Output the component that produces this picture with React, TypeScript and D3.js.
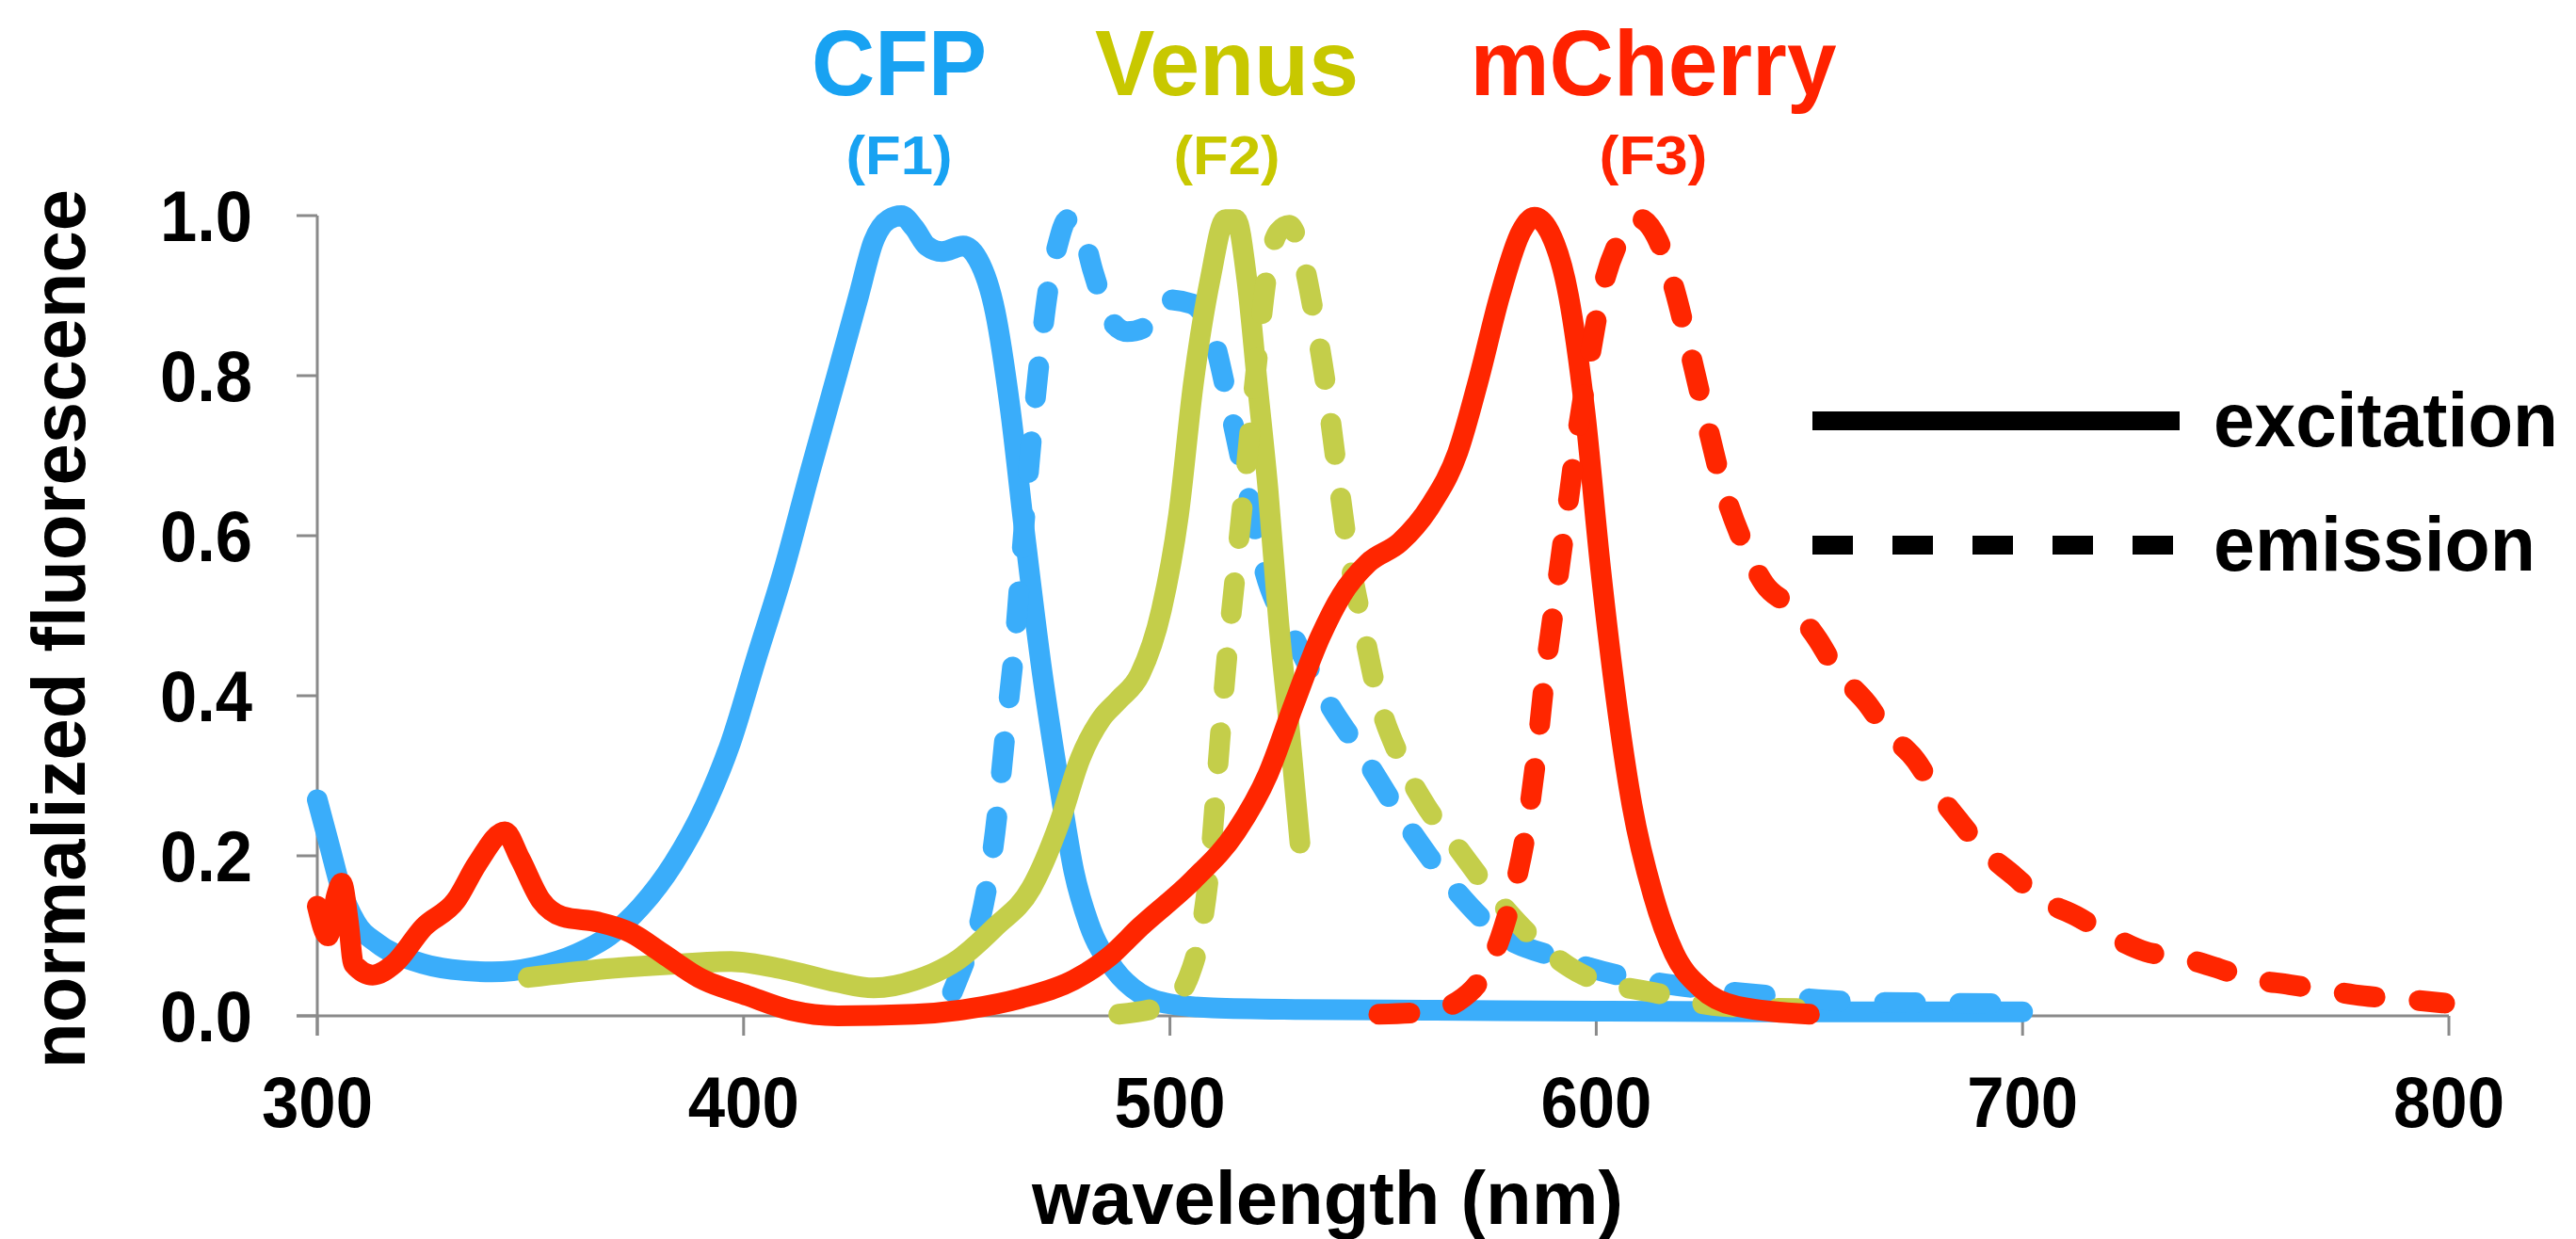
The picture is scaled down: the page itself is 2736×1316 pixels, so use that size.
import React from "react";
import * as d3 from "d3";

// ---- data (wavelength nm, normalized fluorescence) ----
const cfpExcitation: [number, number][] = [
  [300, 0.27], [303, 0.21], [305.5, 0.16], [309, 0.117], [314, 0.091], [323, 0.068],
  [331.5, 0.058], [341, 0.055], [351, 0.061], [361, 0.078], [368.5, 0.1], [376, 0.137],
  [383.5, 0.19], [391, 0.263], [397, 0.342], [403, 0.447], [409.5, 0.559], [415.5, 0.678],
  [422, 0.803], [427, 0.9], [430.5, 0.968], [434, 0.995], [437, 1.0], [440, 0.985],
  [443, 0.962], [446.5, 0.955], [451.5, 0.962], [455, 0.945], [459, 0.88], [462.5, 0.76],
  [466, 0.6], [470, 0.43], [474, 0.29], [477.5, 0.18], [481, 0.115], [487, 0.058],
  [493, 0.028], [500, 0.015], [510, 0.01], [530, 0.008], [560, 0.007], [600, 0.006],
  [650, 0.005], [700, 0.005],
];
const cfpEmission: [number, number][] = [
  [449, 0.03], [452, 0.07], [455.5, 0.12], [459, 0.23], [461.5, 0.36], [463.5, 0.46],
  [465, 0.56], [467, 0.69], [469, 0.8], [471.5, 0.91], [473.5, 0.96], [476, 0.995],
  [479, 0.985], [482, 0.93], [486, 0.87], [490, 0.855], [494, 0.86], [499, 0.895],
  [505, 0.89], [510, 0.85], [514, 0.76], [518, 0.66], [522, 0.56], [529, 0.474],
  [537.5, 0.388], [545, 0.328], [555, 0.243], [565, 0.17], [577, 0.104], [592, 0.071],
  [605, 0.051], [623, 0.035], [642, 0.025], [660, 0.018], [680, 0.016], [701, 0.015],
];
const venusExcitation: [number, number][] = [
  [349.5, 0.048], [366, 0.058], [385, 0.065], [397, 0.068], [409.5, 0.058], [422, 0.042],
  [430.5, 0.035], [440.5, 0.045], [450.5, 0.071], [459, 0.111], [467.5, 0.16], [474, 0.24],
  [479, 0.322], [484, 0.372], [488, 0.395], [493, 0.427], [498, 0.507], [502, 0.625],
  [505.5, 0.79], [509.5, 0.922], [513, 0.995], [515.5, 0.995], [518, 0.922], [520.5, 0.79],
  [523, 0.658], [525.5, 0.493], [528, 0.36], [530.5, 0.216],
];
const venusEmission: [number, number][] = [
  [488, 0.002], [499.5, 0.015], [504.5, 0.05], [507, 0.098], [509.5, 0.197], [511, 0.296],
  [513, 0.427], [515.5, 0.56], [518, 0.69], [520.5, 0.823], [523, 0.935], [525.5, 0.98],
  [528, 0.988], [531, 0.949], [534, 0.87], [536.5, 0.79], [539, 0.69], [541.5, 0.592],
  [545, 0.493], [549, 0.394], [554, 0.322], [560, 0.263], [567.5, 0.21], [575, 0.157],
  [585, 0.098], [597, 0.051], [614.5, 0.028], [629.5, 0.012], [647, 0.009],
];
const mCherryExcitation: [number, number][] = [
  [300, 0.137], [302.5, 0.1], [304.5, 0.15], [305.7, 0.166], [307.3, 0.117], [308.5, 0.065],
  [313, 0.051], [318, 0.065], [325, 0.111], [332.5, 0.144], [337.5, 0.19], [344, 0.23],
  [347.5, 0.197], [352.5, 0.144], [357.5, 0.124], [366, 0.117], [373.5, 0.104], [381, 0.078],
  [389.5, 0.048], [401, 0.025], [411, 0.007], [422, 0.0], [440, 0.002], [453, 0.009],
  [465, 0.022], [477.5, 0.045], [486, 0.075], [493, 0.111], [505.5, 0.17], [515.5, 0.23],
  [523, 0.302], [529, 0.388], [535.3, 0.474], [540.3, 0.526], [546.5, 0.566], [554, 0.592],
  [561.3, 0.639], [567.5, 0.704], [572.5, 0.797], [577.4, 0.9], [582.4, 0.98], [585.5, 0.998],
  [589, 0.98], [593.5, 0.9], [597.3, 0.757], [601, 0.56], [604.7, 0.394], [608.4, 0.263],
  [613.4, 0.15], [618.3, 0.078], [624.5, 0.035], [633, 0.012], [650, 0.002],
];
const mCherryEmission: [number, number][] = [
  [549, 0.002], [560, 0.005], [567.5, 0.018], [573.5, 0.051], [577.5, 0.098], [581, 0.164],
  [583.5, 0.23], [586, 0.328], [588, 0.427], [590.5, 0.526], [593, 0.625], [595.5, 0.724],
  [598.5, 0.823], [601.5, 0.909], [605.3, 0.968], [609.7, 0.997], [614.6, 0.968], [618.3, 0.909],
  [622, 0.83], [625.8, 0.744], [629.5, 0.665], [634.4, 0.592], [639.4, 0.54], [646, 0.51],
  [652, 0.47], [656, 0.435], [663.6, 0.39], [668, 0.357], [675, 0.319], [679, 0.286],
  [685.5, 0.241], [690.7, 0.208], [698, 0.175], [704, 0.147], [712.5, 0.125], [720, 0.102],
  [729, 0.08], [737, 0.073], [745, 0.061], [753, 0.047], [762.6, 0.039], [770, 0.033],
  [780, 0.025], [789, 0.021], [799, 0.016],
];

const xTicks = [300, 400, 500, 600, 700, 800];
const yTicks = [0, 0.2, 0.4, 0.6, 0.8, 1.0];
const proteins = ["CFP", "Venus", "mCherry"];
const filters = ["(F1)", "(F2)", "(F3)"];
const legendLabels = ["excitation", "emission"];

const W = 2736;
const H = 1316;
const FONT = "'Liberation Sans', Arial, Helvetica, sans-serif";
const BLUE = "#3aadfa";
const OLIVE = "#c4ce4a";
const RED = "#ff2600";

export default function App() {
  const x = d3.scaleLinear().domain([300, 800]).range([337, 2601]);
  const y = d3.scaleLinear().domain([0, 1]).range([1079, 229]);
  const line = d3
    .line<[number, number]>()
    .x((d) => x(d[0]))
    .y((d) => y(d[1]))
    .curve(d3.curveMonotoneX);

  const series = [
    { data: cfpExcitation, color: BLUE, dashed: false },
    { data: cfpEmission, color: BLUE, dashed: true },
    { data: venusExcitation, color: OLIVE, dashed: false },
    { data: venusEmission, color: OLIVE, dashed: true },
    { data: mCherryExcitation, color: RED, dashed: false },
    { data: mCherryEmission, color: RED, dashed: true },
  ];

  const titles = [
    { name: proteins[0], sub: filters[0], cx: 955, color: "#18a2f2", len: 186, subLen: 113 },
    { name: proteins[1], sub: filters[1], cx: 1303, color: "#c8c800", len: 280, subLen: 113 },
    { name: proteins[2], sub: filters[2], cx: 1756, color: "#ff2200", len: 389, subLen: 115 },
  ];

  const axisColor = "#8a8a8a";

  return (
    <div style={{ position: "fixed", left: 0, top: 0 }}>
      <svg width={W} height={H} style={{ display: "block", background: "#fff" }}>
        {/* axes */}
        <g stroke={axisColor} strokeWidth={3}>
          <line x1={x(300)} x2={x(300)} y1={y(1)} y2={y(0) + 21} />
          <line x1={x(300) - 22} x2={x(800)} y1={y(0)} y2={y(0)} />
          {yTicks.map((t) => (
            <line key={"yt" + t} x1={x(300) - 22} x2={x(300)} y1={y(t)} y2={y(t)} />
          ))}
          {xTicks.map((t) => (
            <line key={"xt" + t} x1={x(t)} x2={x(t)} y1={y(0)} y2={y(0) + 21} />
          ))}
        </g>
        {/* tick labels */}
        <g fontFamily={FONT} fontWeight="bold" fontSize={76} fill="#000">
          {yTicks.map((t) => (
            <text
              key={"yl" + t}
              x={268}
              y={y(t) + 27}
              textAnchor="end"
              textLength={98}
              lengthAdjust="spacingAndGlyphs"
            >
              {t.toFixed(1)}
            </text>
          ))}
          {xTicks.map((t) => (
            <text
              key={"xl" + t}
              x={x(t)}
              y={1197}
              textAnchor="middle"
              textLength={118}
              lengthAdjust="spacingAndGlyphs"
            >
              {t}
            </text>
          ))}
        </g>
        {/* axis titles */}
        <text
          x={1410}
          y={1300}
          textAnchor="middle"
          fontFamily={FONT}
          fontWeight="bold"
          fontSize={80}
          textLength={628}
          lengthAdjust="spacingAndGlyphs"
        >
          wavelength (nm)
        </text>
        <text
          transform="translate(90,668) rotate(-90)"
          textAnchor="middle"
          fontFamily={FONT}
          fontWeight="bold"
          fontSize={80}
          textLength={934}
          lengthAdjust="spacingAndGlyphs"
        >
          normalized fluorescence
        </text>

        {/* curves */}
        <g fill="none" strokeWidth={22} strokeLinejoin="round">
          {series.map((s, i) => (
            <path
              key={"s" + i}
              d={line(s.data) || ""}
              stroke={s.color}
              strokeLinecap="round"
              strokeDasharray={s.dashed ? "33 47" : undefined}
            />
          ))}
        </g>

        {/* protein titles */}
        {titles.map((t) => (
          <g key={t.name} fontFamily={FONT} fontWeight="bold" fill={t.color} textAnchor="middle">
            <text x={t.cx} y={101} fontSize={98} textLength={t.len} lengthAdjust="spacingAndGlyphs">
              {t.name}
            </text>
            <text x={t.cx} y={185} fontSize={58} textLength={t.subLen} lengthAdjust="spacingAndGlyphs">
              {t.sub}
            </text>
          </g>
        ))}

        {/* legend */}
        <line x1={1925} x2={2315} y1={447} y2={447} stroke="#000" strokeWidth={20} />
        <line
          x1={1925}
          x2={2310}
          y1={579}
          y2={579}
          stroke="#000"
          strokeWidth={20}
          strokeDasharray="43 42"
        />
        <g fontFamily={FONT} fontWeight="bold" fontSize={81} fill="#000">
          <text x={2351} y={474} textLength={366} lengthAdjust="spacingAndGlyphs">
            {legendLabels[0]}
          </text>
          <text x={2351} y={606} textLength={342} lengthAdjust="spacingAndGlyphs">
            {legendLabels[1]}
          </text>
        </g>
      </svg>
    </div>
  );
}
